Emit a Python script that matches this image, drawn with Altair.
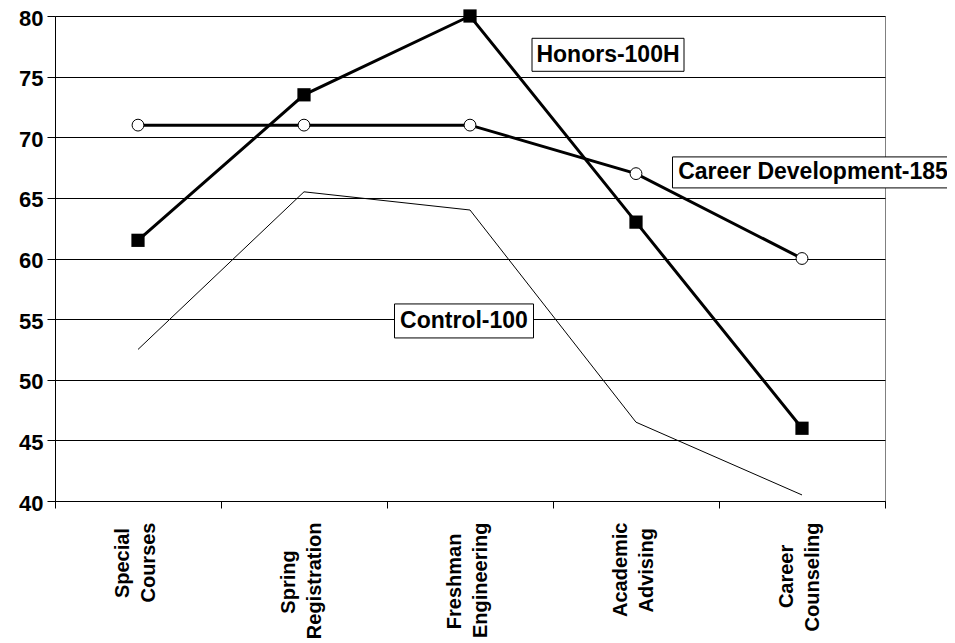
import json
import altair as alt
import pandas as pd

NB = "\u00a0"
ZW = "\u200b"  # keeps the padding from being trimmed

categories = ["Special Courses", "Spring Registration", "Freshman Engineering",
              "Academic Advising", "Career Counseling"]
# two-line tick labels (shorter line padded so the lines sit centred on each other)
tick_lines = [
    ["Special" + NB + ZW, "Courses"],
    ["Spring" + NB * 5 + ZW, "Registration"],
    ["Freshman" + NB * 2 + ZW, "Engineering"],
    ["Academic", "Advising" + NB + ZW],
    ["Career" + NB * 4 + ZW, "Counseling"],
]

honors = [61.5, 73.5, 80, 63, 46]
career_dev = [71, 71, 71, 67, 60]
control = [52.5, 65.5, 64, 46.5, 40.5]

y_ticks = [40, 45, 50, 55, 60, 65, 70, 75, 80]

annot_text = ["Honors-100H", "Career Development-185", "Control-100"]
annot_cat = ["Academic Advising", "Career Counseling", "Freshman Engineering"]
annot_val = [76.8, 67.1, 54.85]
annot_dx = [-28, 11, -6]
annot_box = [(152, 33), (281, 31), (139, 34)]

FONT = "Liberation Sans"

df = pd.DataFrame({
    "category": categories * 3,
    "value": honors + career_dev + control,
    "series": ["Honors-100H"] * 5 + ["Career Development-185"] * 5 + ["Control-100"] * 5,
})

label_map = {c: l for c, l in zip(categories, tick_lines)}
label_expr = json.dumps(label_map, ensure_ascii=False) + "[datum.value]"

x_enc = alt.X(
    "category:N", sort=categories, bandPosition=0.5, title=None,
    scale=alt.Scale(type="band", paddingInner=0, paddingOuter=0, domain=categories),
    axis=alt.Axis(tickBand="extent", labelAngle=270, labelAlign="right",
                  labelBaseline="middle", labelFont=FONT, labelFontSize=20,
                  labelFontWeight="bold", labelColor="black", labelPadding=14,
                  labelLineHeight=26, labelOffset=-16, tickSize=7, tickColor="black",
                  domainColor="black", labelExpr=label_expr, grid=False),
)
y_enc = alt.Y(
    "value:Q", title=None,
    scale=alt.Scale(domain=[40, 80], nice=False, zero=False),
    axis=alt.Axis(values=y_ticks, grid=True, gridColor="black", gridWidth=1,
                  domainColor="black", tickColor="black", tickSize=8,
                  labelFont=FONT, labelFontSize=22, labelFontWeight="bold",
                  labelColor="black", labelPadding=4, labelOffset=2),
)

base = alt.Chart(df).encode(x=x_enc, y=y_enc)

control_line = base.transform_filter(alt.datum.series == "Control-100").mark_line(
    color="black", strokeWidth=1)
career_line = base.transform_filter(alt.datum.series == "Career Development-185").mark_line(
    color="black", strokeWidth=3)
honors_line = base.transform_filter(alt.datum.series == "Honors-100H").mark_line(
    color="black", strokeWidth=3)
career_pts = base.transform_filter(alt.datum.series == "Career Development-185").mark_point(
    shape="circle", filled=True, fill="white", stroke="black", strokeWidth=1,
    size=140, opacity=1)
honors_pts = base.transform_filter(alt.datum.series == "Honors-100H").mark_point(
    shape="square", filled=True, color="black", size=175, opacity=1)

layers = [control_line, career_line, honors_line, career_pts, honors_pts]

for txt, cat, val, dx, (w, h) in zip(annot_text, annot_cat, annot_val, annot_dx, annot_box):
    adf = pd.DataFrame({"category": [cat], "value": [val], "label": [txt]})
    path = f"M{dx - w / 2},{-h / 2}H{dx + w / 2}V{h / 2}H{dx - w / 2}Z"
    box = alt.Chart(adf).mark_point(
        shape=path, size=4, filled=True, fill="white", stroke="black",
        strokeWidth=1, opacity=1).encode(x=x_enc, y=y_enc)
    label = alt.Chart(adf).mark_text(
        font=FONT, fontSize=23, fontWeight="bold", color="black",
        align="center", baseline="middle", dx=dx).encode(
        x=x_enc, y=y_enc, text="label:N")
    layers += [box, label]

chart = alt.layer(*layers).properties(
    width=830, height=485,
    autosize=alt.AutoSizeParams(type="none"),
    padding={"left": 47, "top": 8, "right": 62, "bottom": 137},
    background="white",
).configure_view(stroke="#808080", strokeWidth=1)

chart.save("out.html", embed_options={"renderer": "svg", "actions": False})
